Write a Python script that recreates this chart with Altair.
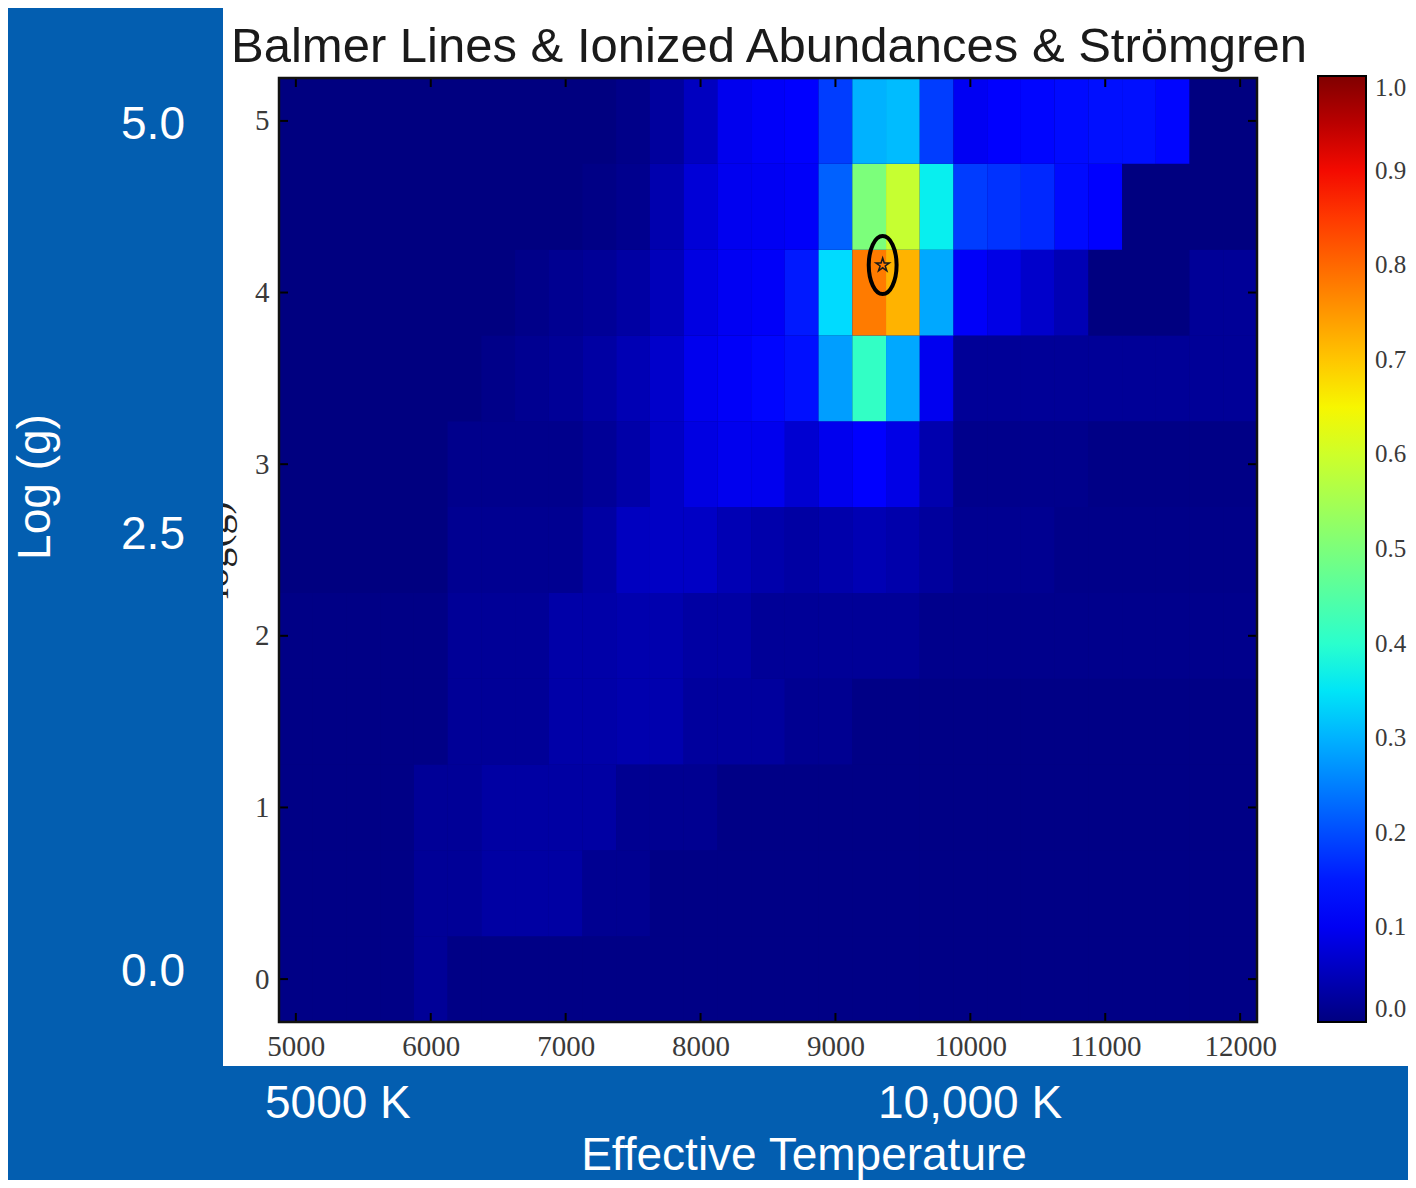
import altair as alt
import pandas as pd

# ---------------- data ----------------
temps = [5000, 5250, 5500, 5750, 6000, 6250, 6500, 6750, 7000, 7250, 7500, 7750,
         8000, 8250, 8500, 8750, 9000, 9250, 9500, 9750, 10000, 10250, 10500,
         10750, 11000, 11250, 11500, 11750, 12000]
loggs = [0.0, 0.5, 1.0, 1.5, 2.0, 2.5, 3.0, 3.5, 4.0, 4.5, 5.0]

g00 = [0.005, 0.005, 0.005, 0.005, 0.02, 0.005, 0.005, 0.005, 0.005, 0.005, 0.005, 0.005,
       0.005, 0.005, 0.005, 0.005, 0.005, 0.005, 0.005, 0.005, 0.005, 0.005, 0.005,
       0.005, 0.005, 0.005, 0.005, 0.005, 0.005]
g05 = [0.005, 0.005, 0.005, 0.005, 0.02, 0.02, 0.03, 0.03, 0.03, 0.015, 0.015, 0.005,
       0.005, 0.005, 0.005, 0.005, 0.005, 0.005, 0.005, 0.005, 0.005, 0.005, 0.005,
       0.005, 0.005, 0.005, 0.005, 0.005, 0.005]
g10 = [0.005, 0.005, 0.005, 0.005, 0.02, 0.02, 0.03, 0.03, 0.03, 0.03, 0.015, 0.015,
       0.015, 0.005, 0.005, 0.005, 0.005, 0.005, 0.005, 0.005, 0.005, 0.005, 0.005,
       0.005, 0.005, 0.005, 0.005, 0.005, 0.005]
g15 = [0.005, 0.005, 0.005, 0.005, 0.005, 0.02, 0.02, 0.02, 0.035, 0.035, 0.04, 0.04,
       0.025, 0.025, 0.025, 0.015, 0.015, 0.005, 0.005, 0.005, 0.005, 0.005, 0.005,
       0.005, 0.005, 0.005, 0.005, 0.005, 0.005]
g20 = [0.005, 0.005, 0.005, 0.005, 0.005, 0.02, 0.02, 0.02, 0.035, 0.035, 0.04, 0.04,
       0.03, 0.03, 0.02, 0.02, 0.02, 0.02, 0.02, 0.01, 0.01, 0.01, 0.01,
       0.01, 0.01, 0.01, 0.01, 0.01, 0.01]
g25 = [0.0, 0.0, 0.0, 0.0, 0.0, 0.015, 0.015, 0.015, 0.015, 0.03, 0.055, 0.06,
       0.06, 0.045, 0.037, 0.03, 0.037, 0.045, 0.037, 0.025, 0.015, 0.015, 0.015,
       0.008, 0.008, 0.008, 0.008, 0.008, 0.008]
g30 = [0.0, 0.0, 0.0, 0.0, 0.0, 0.01, 0.01, 0.01, 0.01, 0.02, 0.035, 0.06,
       0.085, 0.095, 0.095, 0.07, 0.095, 0.12, 0.088, 0.04, 0.01, 0.01, 0.01,
       0.01, 0.005, 0.005, 0.005, 0.005, 0.005]
g35 = [0.0, 0.0, 0.0, 0.0, 0.0, 0.0, 0.008, 0.015, 0.02, 0.03, 0.045, 0.065,
       0.095, 0.105, 0.13, 0.14, 0.28, 0.41, 0.29, 0.097, 0.02, 0.02, 0.02,
       0.02, 0.02, 0.02, 0.02, 0.02, 0.02]
g40 = [0.0, 0.0, 0.0, 0.0, 0.0, 0.0, 0.0, 0.008, 0.015, 0.02, 0.03, 0.05,
       0.085, 0.1, 0.105, 0.15, 0.34, 0.78, 0.72, 0.29, 0.105, 0.088, 0.065,
       0.045, 0.0, 0.0, 0.0, 0.02, 0.02]
g45 = [0.0, 0.0, 0.0, 0.0, 0.0, 0.0, 0.0, 0.0, 0.0, 0.005, 0.012, 0.04,
       0.075, 0.097, 0.1, 0.105, 0.22, 0.50, 0.59, 0.36, 0.184, 0.174, 0.164,
       0.135, 0.11, 0.0, 0.0, 0.0, 0.0]
g50 = [0.0, 0.0, 0.0, 0.0, 0.0, 0.0, 0.0, 0.0, 0.0, 0.0, 0.008, 0.025,
       0.055, 0.095, 0.105, 0.11, 0.185, 0.30, 0.31, 0.185, 0.10, 0.11, 0.13,
       0.135, 0.14, 0.14, 0.13, 0.0, 0.0]
grid_rows = [g00, g05, g10, g15, g20, g25, g30, g35, g40, g45, g50]

x_ticks = [5000, 6000, 7000, 8000, 9000, 10000, 11000, 12000]
y_ticks = [0, 1, 2, 3, 4, 5]
cbar_ticks = [0.0, 0.1, 0.2, 0.3, 0.4, 0.5, 0.6, 0.7, 0.8, 0.9, 1.0]

best_T = [9350]
best_g = [4.16]

title_text = "Balmer Lines & Ionized Abundances & Strömgren"
slide_y_labels = ["5.0", "2.5", "0.0"]
slide_x_labels = ["5000 K", "10,000 K"]
slide_y_title = "Log (g)"
slide_x_title = "Effective Temperature"
mpl_ylabel = "log(g)"

# ---------------- build table ----------------
rows = []
for g, vals in zip(loggs, grid_rows):
    for t, v in zip(temps, vals):
        rows.append({"x0": t - 125, "x1": t + 125, "y0": g - 0.25, "y1": g + 0.25, "v": v})
df = pd.DataFrame(rows)

# matplotlib "jet" colormap as piecewise-linear stops
jet_r = [(0, 0), (0.35, 0), (0.66, 1), (0.89, 1), (1, 0.5)]
jet_g = [(0, 0), (0.125, 0), (0.375, 1), (0.64, 1), (0.91, 0), (1, 0)]
jet_b = [(0, 0.5), (0.11, 1), (0.34, 1), (0.65, 0), (1, 0)]


def _seg(segs, x):
    for (a0, b0), (a1, b1) in zip(segs, segs[1:]):
        if a0 <= x <= a1:
            return b0 + (b1 - b0) * (x - a0) / (a1 - a0)
    return segs[-1][1]


stops = sorted({p[0] for p in jet_r + jet_g + jet_b})
jet_range = []
for s in stops:
    r, g, b = (_seg(jet_r, s), _seg(jet_g, s), _seg(jet_b, s))
    jet_range.append("#%02x%02x%02x" % (round(r * 255), round(g * 255), round(b * 255)))

# ---------------- layout ----------------
W, H = 978, 944
X0, Y0 = 279, 78  # page position of the plot origin
SLIDE_BLUE = "#035EB0"

xscale = alt.Scale(domain=[4875, 12125], nice=False, zero=False)
yscale = alt.Scale(domain=[-0.25, 5.25], nice=False, zero=False)
cscale = alt.Scale(domain=stops, range=jet_range, interpolate="rgb")

tick_font = "Liberation Serif"
xaxis = alt.Axis(values=x_ticks, format="d", title=None, ticks=False, domain=False, grid=False,
                 labelFont=tick_font, labelFontSize=29, labelColor="#3a3a3a",
                 labelPadding=10, zindex=1)
yaxis = alt.Axis(values=y_ticks, format="d", title=None, ticks=False, domain=False, grid=False,
                 labelFont=tick_font, labelFontSize=29, labelColor="#3a3a3a",
                 labelPadding=10, zindex=1)


def label(text, x, y, size, color, font, align="center", angle=0, baseline="alphabetic"):
    return alt.Chart(pd.DataFrame({"t": [text]})).mark_text(
        font=font, fontSize=size, color=color, align=align, baseline=baseline, angle=angle
    ).encode(x=alt.value(x - X0), y=alt.value(y - Y0), text="t:N")


one = pd.DataFrame({"a": [0]})

white_box = alt.Chart(one).mark_rect(color="white").encode(
    x=alt.value(223 - X0), x2=alt.value(1416 - X0), y=alt.value(8 - Y0), y2=alt.value(1066 - Y0))

mpl_label = label(mpl_ylabel, 228, 550, 40, "#222222", tick_font, angle=270)

blue_cover = alt.Chart(one).mark_rect(color=SLIDE_BLUE).encode(
    x=alt.value(-10 - X0), x2=alt.value(223 - X0), y=alt.value(-10 - Y0), y2=alt.value(1200 - Y0))

underlay = alt.Chart(one).mark_rect(color=jet_range[0]).encode(
    x=alt.value(0), x2=alt.value(W), y=alt.value(0), y2=alt.value(H))

heat = alt.Chart(df).mark_rect().encode(
    x=alt.X("x0:Q", scale=xscale, axis=xaxis),
    x2="x1:Q",
    y=alt.Y("y0:Q", scale=yscale, axis=yaxis),
    y2="y1:Q",
    color=alt.Color("v:Q", scale=cscale, legend=alt.Legend(
        type="gradient", orient="none", legendX=1318 - X0, legendY=76 - Y0,
        direction="vertical", gradientLength=946, gradientThickness=48, title=None,
        values=cbar_ticks, format=".1f", labelFont=tick_font, labelFontSize=25,
        labelColor="#3a3a3a", labelOffset=9, labelOverlap=False, labelBaseline="middle",
        gradientStrokeColor="black", gradientStrokeWidth=2)),
)

xt = pd.DataFrame({"t": x_ticks})
yt = pd.DataFrame({"t": y_ticks})
tick_style = dict(color="black", strokeWidth=2)
xt_bottom = alt.Chart(xt).mark_rule(**tick_style).encode(
    x=alt.X("t:Q", scale=xscale, axis=xaxis), y=alt.value(H), y2=alt.value(H - 9))
xt_top = alt.Chart(xt).mark_rule(**tick_style).encode(
    x=alt.X("t:Q", scale=xscale, axis=xaxis), y=alt.value(0), y2=alt.value(9))
yt_left = alt.Chart(yt).mark_rule(**tick_style).encode(
    y=alt.Y("t:Q", scale=yscale, axis=yaxis), x=alt.value(0), x2=alt.value(9))
yt_right = alt.Chart(yt).mark_rule(**tick_style).encode(
    y=alt.Y("t:Q", scale=yscale, axis=yaxis), x=alt.value(W), x2=alt.value(W - 9))

frame = alt.Chart(one).mark_rect(fillOpacity=0, stroke="#111111", strokeWidth=2.5).encode(
    x=alt.value(0), x2=alt.value(W), y=alt.value(0), y2=alt.value(H))

best = pd.DataFrame({"T": best_T, "g": best_g})
ellipse = alt.Chart(best).mark_point(
    shape="M0,-1A0.48,1 0 1,1 0,1A0.48,1 0 1,1 0,-1Z",
    filled=False, stroke="black", strokeWidth=4, size=3364, opacity=1).encode(
    x=alt.X("T:Q", scale=xscale, axis=xaxis), y=alt.Y("g:Q", scale=yscale, axis=yaxis))
star = alt.Chart(best).mark_point(
    shape="M0,-1L0.2245,-0.309L0.951,-0.309L0.363,0.118L0.588,0.809L0,0.382L-0.588,0.809"
          "L-0.363,0.118L-0.951,-0.309L-0.2245,-0.309Z",
    filled=False, stroke="#1a1a1a", strokeWidth=1.5, size=200, opacity=1).encode(
    x=alt.X("T:Q", scale=xscale, axis=xaxis), y=alt.Y("g:Q", scale=yscale, axis=yaxis))

title = label(title_text, 769, 62, 49, "#1a1a1a", "Liberation Sans")

sf = "Liberation Sans"
slide = [
    label(slide_y_labels[0], 153, 139, 46, "white", sf),
    label(slide_y_labels[1], 153, 549, 46, "white", sf),
    label(slide_y_labels[2], 153, 986, 46, "white", sf),
    label(slide_y_title, 50, 487, 46, "white", sf, angle=270),
    label(slide_x_labels[0], 265, 1118, 46, "white", sf, align="left"),
    label(slide_x_labels[1], 878, 1118, 46, "white", sf, align="left"),
    label(slide_x_title, 804, 1170, 46, "white", sf),
]

chart = alt.layer(
    white_box, mpl_label, blue_cover, underlay, heat, xt_bottom, xt_top, yt_left, yt_right,
    frame, ellipse, star, title, *slide
).properties(
    width=W, height=H,
    autosize=alt.AutoSizeParams(type="none"),
    padding={"left": 271, "top": 70, "right": 151, "bottom": 158},
    background=SLIDE_BLUE,
).configure_view(stroke=None)

chart.save("out.html", embed_options={"renderer": "svg", "actions": False})
